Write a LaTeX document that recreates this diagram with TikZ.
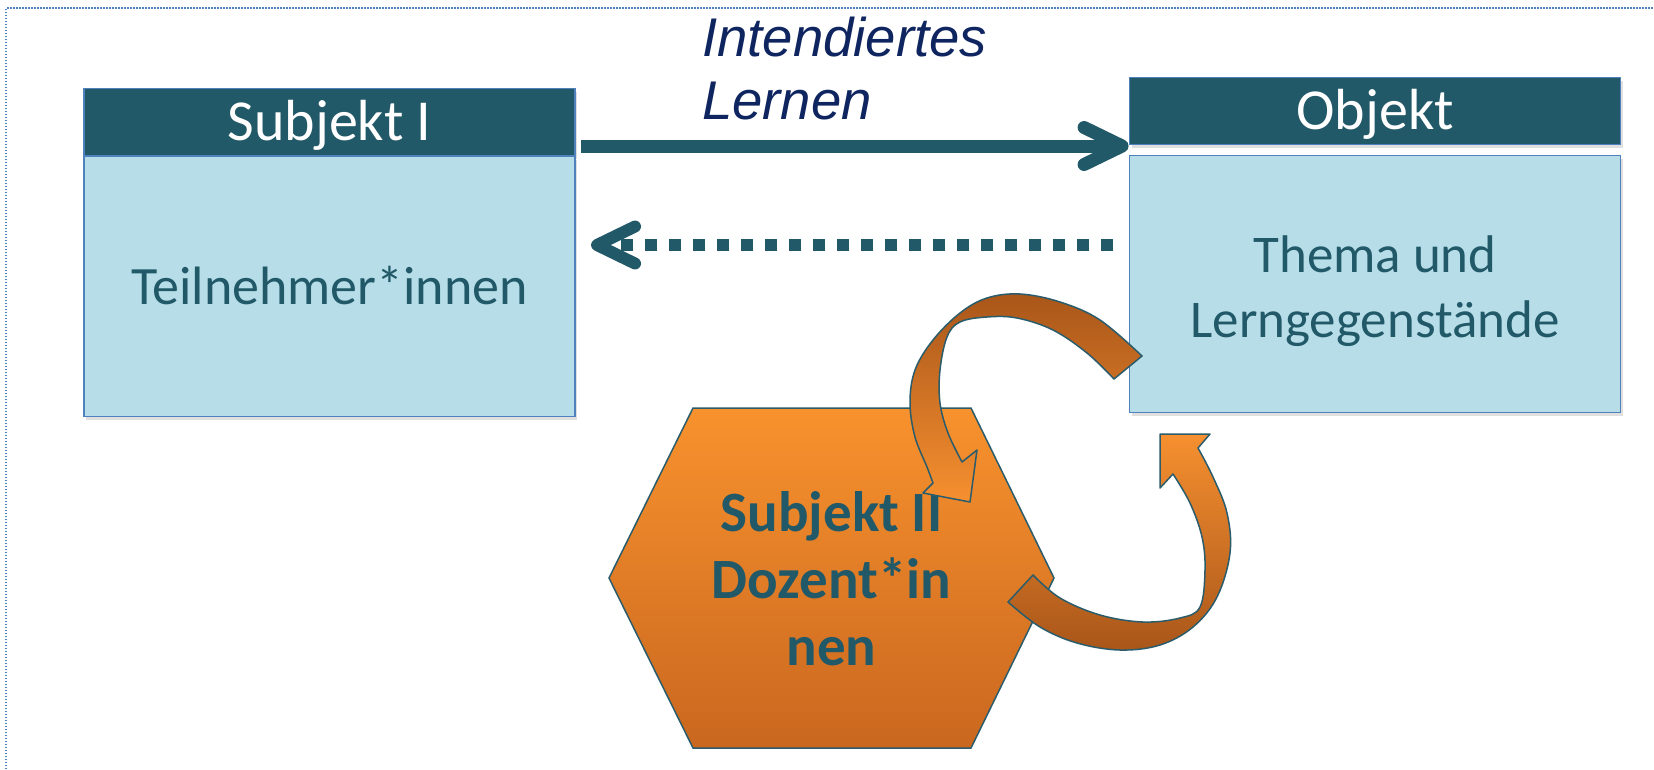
\documentclass[tikz,border=0pt]{standalone}
\usepackage{fontspec}
\setmainfont{Carlito}
\newfontfamily\arialfont{Liberation Sans}
\usetikzlibrary{arrows.meta,shadows,calc}
\definecolor{hdrcol}{HTML}{215968}
\definecolor{bodycol}{HTML}{B7DEE8}
\definecolor{bordercol}{HTML}{4F81BD}
\definecolor{txtcol}{HTML}{215968}
\definecolor{navycol}{HTML}{0E2560}
\definecolor{framecol}{HTML}{4F81BD}
\definecolor{orlight}{HTML}{F8922E}
\definecolor{ordark}{HTML}{C9671F}
\definecolor{arrdark}{HTML}{A9561A}
\definecolor{arrlight}{HTML}{F69030}
\definecolor{outlinecol}{HTML}{2A5C6B}
\begin{document}
\begin{tikzpicture}[x=1pt,y=-1pt,
  boxshadow/.style={drop shadow={opacity=0.25, shadow xshift=2pt, shadow yshift=-3pt}},
  hdr/.style={draw=bordercol, line width=1.8pt, fill=hdrcol, text=white, inner sep=0pt,
    minimum width=491pt, minimum height=67pt,
    font=\fontsize{58pt}{70pt}\selectfont, text height=37pt, text depth=0pt, boxshadow},
  bodyb/.style={draw=bordercol, line width=1.8pt, fill=bodycol, text=txtcol, inner sep=0pt,
    minimum width=491pt, align=center, boxshadow},
  conn/.style={draw=hdrcol, line width=13pt},
  chev/.style={-{Straight Barb[length=38pt, width=37pt, round]}},
  curvarrow/.style={draw=outlinecol, line width=1.5pt, line join=round},
  hexst/.style={draw=outlinecol, line width=1.5pt, top color=orlight, bottom color=ordark},
  hextext/.style={text=txtcol, align=center, inner sep=0pt,
    font=\bfseries\fontsize{57pt}{67pt}\selectfont, text height=170pt, text depth=0pt},
  lbl/.style={text=navycol, align=left, inner sep=0pt,
    font=\arialfont\itshape\fontsize{54.5pt}{63pt}\selectfont, text height=102pt, text depth=0pt}
]
\useasboundingbox (0,0) rectangle (1654,769);
\fill[white] (0,0) rectangle (1654,769);
% dotted frame
\draw[framecol, line width=1.5pt, dash pattern=on 1.5pt off 1.5pt] (6,769) -- (6,8) -- (1654,8);

% boxes
\node[hdr] (subH) at (329.5,122) {Subjekt I};
\node[bodyb, minimum height=260pt, font=\fontsize{54pt}{65pt}\selectfont, text height=35pt, text depth=0pt] (subB) at (329.5,286.5) {Teilnehmer*innen};
\node[hdr] (objH) at (1375,111) {Objekt};
\node[bodyb, minimum height=257pt, font=\fontsize{53pt}{65pt}\selectfont, text height=106pt, text depth=0pt] (objB) at (1375,284) {Thema und\\Lerngegenst\"ande};

% label
\node[lbl, anchor=north west] (lern) at (702,17) {Intendiertes\\Lernen};

% connectors
\coordinate (s1) at (581,146);
\draw[conn, chev] (s1) -- (s1 -| objH.south west);
\coordinate (d1) at (1113,245);
\coordinate (d2) at (591,245);
\draw[conn, line width=12pt, dash pattern=on 12pt off 12pt, chev] (d1) -- (d2);

% hexagon
\shadedraw[hexst] (693,408) -- (971,408) -- (1054,578) -- (971,748) -- (693,748) -- (609,578) -- cycle;
\node[hextext] (hex) at (831.5,580) {Subjekt II\\Dozent*in\\nen};

% upper curved arrow
\shadedraw[curvarrow, top color=arrdark, bottom color=arrlight]
  plot[smooth, tension=0.6] coordinates {(1142,356) (1100,320) (1060,302) (1020,294) (987,298) (960,313) (933,340) (915,370) (910,403) (915,437) (927,467) (933,483)}
  -- (923,493) -- (970,502) -- (977,450)
  -- plot[smooth, tension=0.6] coordinates {(962,462) (948,433) (940,403) (940,370) (947,337) (960,322) (987,317) (1017,318) (1053,330) (1087,353) (1114,379)}
  -- cycle;

% lower curved arrow
\shadedraw[curvarrow, top color=arrlight, bottom color=arrdark]
  plot[smooth, tension=0.6] coordinates {(1008,602) (1040,627) (1077,643) (1120,650) (1160,645) (1193,627) (1217,597) (1230,553) (1227,513) (1213,477) (1198,448)}
  -- (1210,434) -- (1160,434) -- (1160,488)
  -- plot[smooth, tension=0.6] coordinates {(1173,474) (1190,503) (1202,537) (1205,570) (1200,607) (1180,618) (1143,622) (1100,615) (1060,598) (1033,575)}
  -- cycle;
\end{tikzpicture}
\end{document}
